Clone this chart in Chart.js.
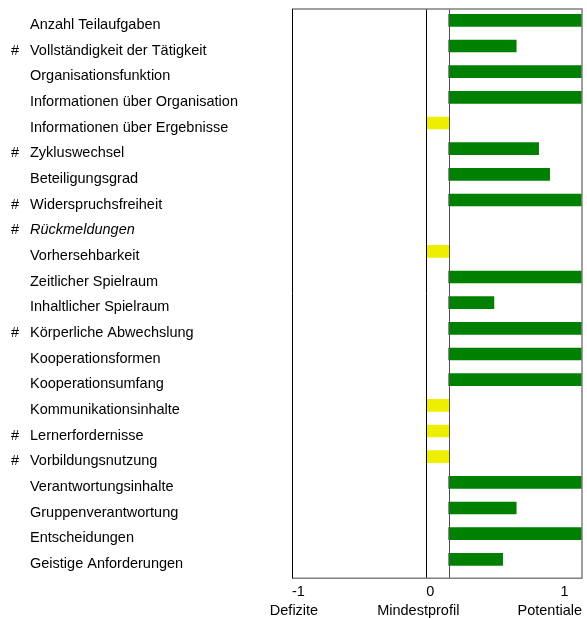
<!DOCTYPE html>
<html>
<head>
<meta charset="utf-8">
<script src="https://cdn.jsdelivr.net/npm/chart.js@4/dist/chart.umd.min.js"></script>
<style>
  html, body { margin: 0; padding: 0; background: #fff; }
  #wrap { width: 587px; height: 618px; position: relative; }
</style>
</head>
<body>
<div id="wrap"><canvas id="c" width="587" height="618"></canvas></div>
<script>
// Profile items (top to bottom)
const items = [
  'Anzahl Teilaufgaben', 'Vollständigkeit der Tätigkeit', 'Organisationsfunktion',
  'Informationen über Organisation', 'Informationen über Ergebnisse', 'Zykluswechsel',
  'Beteiligungsgrad', 'Widerspruchsfreiheit', 'Rückmeldungen', 'Vorhersehbarkeit',
  'Zeitlicher Spielraum', 'Inhaltlicher Spielraum', 'Körperliche Abwechslung',
  'Kooperationsformen', 'Kooperationsumfang', 'Kommunikationsinhalte',
  'Lernerfordernisse', 'Vorbildungsnutzung', 'Verantwortungsinhalte',
  'Gruppenverantwortung', 'Entscheidungen', 'Geistige Anforderungen'
];
// Items flagged with "#"
const flagged = [0,1,0,0,0,1,0,1,1,0,0,0,1,0,0,0,1,1,0,0,0,0];
// Items without a rating (shown in italics)
const unrated = [0,0,0,0,0,0,0,0,1,0,0,0,0,0,0,0,0,0,0,0,0,0];
// Profile values on the scale -1 (Defizite) .. 1 (Potentiale)
const profile = [
  1.16, 0.67, 1.16, 1.16, 0, 0.837, 0.919, 1.16, null, 0,
  1.16, 0.504, 1.16, 1.16, 1.16, 0, 0, 0, 1.16, 0.67, 1.16, 0.569
];
// Minimum profile level
const mindestprofil = 0.167;
const axisMin = -1, axisMax = 1.16;
const tickValues = [-1, 0, 1];
const tickLabels = ['-1', '0', '1'];
const axisTitles = ['Defizite', 'Mindestprofil', 'Potentiale'];

const FONT = '"Liberation Sans", Arial, sans-serif';
const FS = 14.5;

// bars run from the minimum profile to the value
const barData = profile.map(v => v === null ? null : [Math.min(v, mindestprofil), Math.max(v, mindestprofil)]);
const barColors = profile.map(v => (v !== null && v > mindestprofil) ? '#008000' : '#eeee00');

const decor = {
  id: 'decor',
  afterDraw(chart) {
    const { ctx, chartArea: a, scales: { x, y } } = chart;
    const top = a.top + 1.5, bottom = a.bottom + 6;
    ctx.save();
    // reference lines at 0 and at the minimum profile
    ctx.lineWidth = 1;
    ctx.strokeStyle = '#000';
    let px = Math.round(x.getPixelForValue(0)) + 0.5;
    ctx.beginPath(); ctx.moveTo(px, top); ctx.lineTo(px, bottom); ctx.stroke();
    ctx.strokeStyle = '#505050';
    px = Math.round(x.getPixelForValue(mindestprofil)) + 0.5;
    ctx.beginPath(); ctx.moveTo(px, top); ctx.lineTo(px, bottom); ctx.stroke();
    // frame
    ctx.strokeStyle = '#808080';
    ctx.lineWidth = 1.5;
    ctx.beginPath();
    ctx.moveTo(a.left, top); ctx.lineTo(a.right, top); ctx.lineTo(a.right, bottom); ctx.lineTo(a.left, bottom);
    ctx.stroke();
    ctx.strokeStyle = '#000';
    ctx.lineWidth = 1;
    ctx.beginPath();
    ctx.moveTo(Math.round(a.left) + 0.5, top); ctx.lineTo(Math.round(a.left) + 0.5, bottom);
    ctx.stroke();

    // item labels
    ctx.fillStyle = '#000';
    ctx.textBaseline = 'alphabetic';
    ctx.textAlign = 'left';
    items.forEach((name, i) => {
      const py = y.getPixelForValue(i) + 8.8;
      ctx.font = (unrated[i] ? 'italic ' : '') + FS + 'px ' + FONT;
      ctx.fillText(name, 30, py);
      if (flagged[i]) {
        ctx.font = FS + 'px ' + FONT;
        ctx.fillText('#', 11, py);
      }
    });

    // axis titles
    ctx.font = FS + 'px ' + FONT;
    const ty = 615;
    ctx.textAlign = 'center';
    ctx.fillText(axisTitles[0], x.getPixelForValue(-1) + 2, ty);
    ctx.fillText(axisTitles[1], x.getPixelForValue(0) - 8, ty);
    ctx.textAlign = 'right';
    ctx.fillText(axisTitles[2], a.right, ty);
    ctx.restore();
  }
};

new Chart(document.getElementById('c'), {
  type: 'bar',
  data: {
    labels: items,
    datasets: [{
      data: barData,
      backgroundColor: barColors,
      borderWidth: 0,
      barThickness: 12
    }]
  },
  options: {
    indexAxis: 'y',
    responsive: false,
    animation: false,
    layout: { padding: { left: 292, right: 5, top: 7.5, bottom: 0 } },
    plugins: { legend: { display: false }, tooltip: { enabled: false } },
    scales: {
      y: {
        type: 'category',
        display: false,
        offset: true
      },
      x: {
        type: 'linear',
        min: axisMin,
        max: axisMax,
        afterBuildTicks: s => { s.ticks = tickValues.map(v => ({ value: v })); },
        afterFit: s => { s.height = 45.8; },
        grid: { display: false, drawTicks: false },
        border: { display: false },
        ticks: {
          align: 'start',
          padding: 10.8,
          color: '#000',
          font: { family: FONT, size: FS },
          callback: (v) => tickLabels[tickValues.indexOf(v)]
        }
      }
    }
  },
  plugins: [decor]
});
</script>
</body>
</html>
